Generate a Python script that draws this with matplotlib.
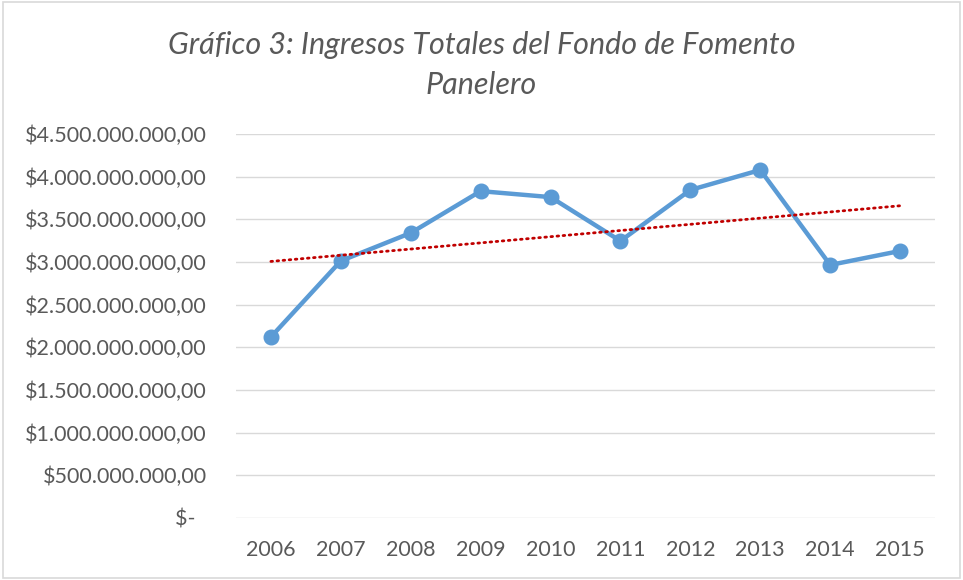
import matplotlib
matplotlib.use("Agg")
import matplotlib.pyplot as plt
import numpy as np
from matplotlib.patches import Rectangle
from matplotlib.ticker import FuncFormatter

# data
YEARS = ["2006", "2007", "2008", "2009", "2010", "2011", "2012", "2013", "2014", "2015"]
INGRESOS = [2.121e9, 3.012e9, 3.340e9, 3.830e9, 3.760e9, 3.246e9, 3.844e9, 4.078e9, 2.965e9, 3.129e9]
Y_TICKS = [0, 0.5e9, 1.0e9, 1.5e9, 2.0e9, 2.5e9, 3.0e9, 3.5e9, 4.0e9, 4.5e9]

TEXT_COLOR = "#595959"
LINE_COLOR = "#5B9BD5"
TREND_COLOR = "#C00000"
GRID_COLOR = "#D9D9D9"

plt.rcParams["font.family"] = ["Lato", "DejaVu Sans"]


def money(v, _pos=None):
    if v == 0:
        return "$-  "
    s = f"{v:,.2f}"
    s = s.replace(",", "X").replace(".", ",").replace("X", ".")
    return "$" + s


fig = plt.figure(figsize=(9.63, 5.80), dpi=100)
ax = fig.add_axes([0.245, 0.107, 0.726, 0.662])

x = np.arange(len(YEARS))
ax.plot(x, INGRESOS, color=LINE_COLOR, lw=3.2, marker="o", ms=10.5,
        solid_capstyle="round", zorder=3)

# linear trendline (least squares), like Excel's
coef = np.polyfit(x, INGRESOS, 1)
ax.plot(x, np.polyval(coef, x), color=TREND_COLOR, lw=2.0,
        linestyle=(0, (0.6, 1.6)), dash_capstyle="round", zorder=4)

ax.set_xlim(-0.5, len(YEARS) - 0.5)
ax.set_ylim(0, 4.5e9)
ax.set_yticks(Y_TICKS)
ax.yaxis.set_major_formatter(FuncFormatter(money))
ax.set_xticks(x)
ax.set_xticklabels(YEARS)
ax.tick_params(length=0, labelsize=15.5, colors=TEXT_COLOR)
ax.tick_params(axis="y", pad=21)
ax.tick_params(axis="x", pad=16)
ax.grid(axis="y", color=GRID_COLOR, lw=1.0)
ax.set_axisbelow(True)
for sp in ax.spines.values():
    sp.set_visible(False)

fig.text(0.5, 0.922, "Gráfico 3: Ingresos Totales del Fondo de Fomento",
         ha="center", va="center", fontsize=22, style="italic", color=TEXT_COLOR)
fig.text(0.5, 0.853, "Panelero",
         ha="center", va="center", fontsize=22, style="italic", color=TEXT_COLOR)

fig.patches.append(Rectangle((0.003, 0.004), 0.994, 0.992, transform=fig.transFigure,
                             fill=False, edgecolor="#D9D9D9", lw=1.2))

fig.savefig("out.png", dpi=100, facecolor="white")
